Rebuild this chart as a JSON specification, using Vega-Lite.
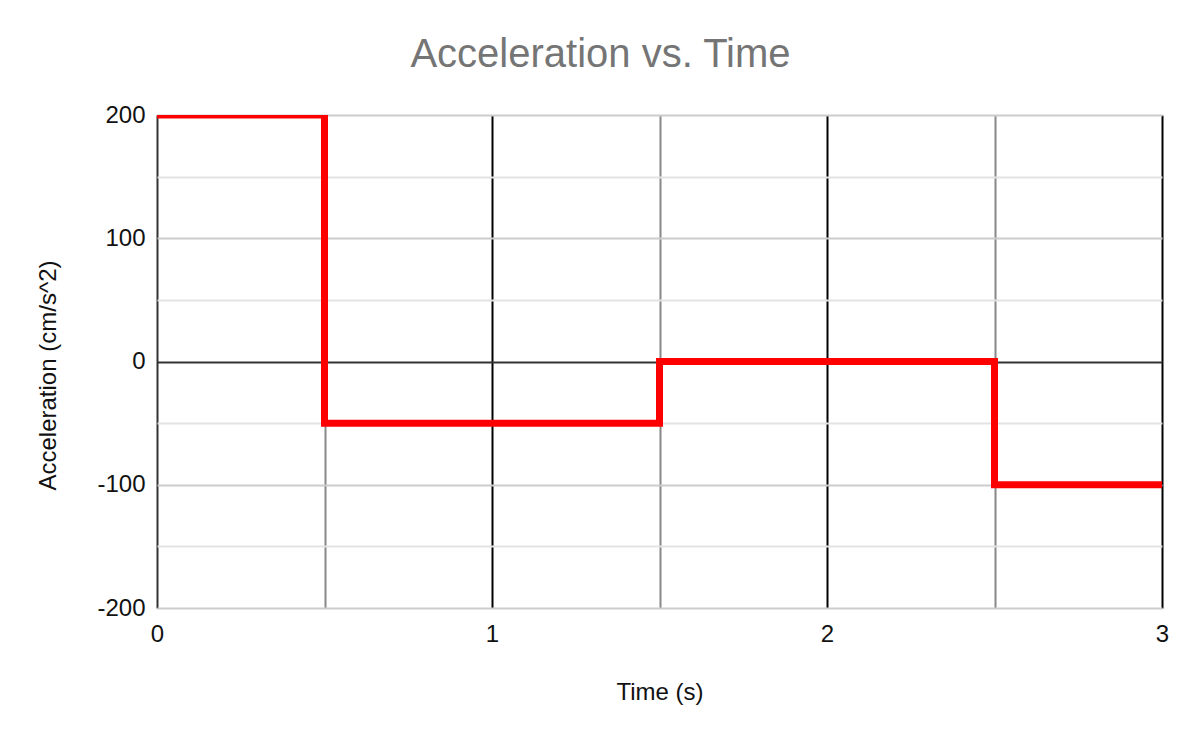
{
  "$schema": "https://vega.github.io/schema/vega-lite/v6.json",
  "autosize": "none",
  "width": 1005,
  "height": 493,
  "padding": {"left": 157, "top": 115, "right": 38, "bottom": 134},
  "background": "white",
  "title": {
    "text": "Acceleration vs. Time",
    "fontSize": 40,
    "font": "Liberation Sans",
    "fontWeight": "normal",
    "color": "#757575",
    "anchor": "middle",
    "dx": -59,
    "offset": 28
  },
  "data": {
    "values": [
      {"time": 0, "accel": 200},
      {"time": 0.5, "accel": -50},
      {"time": 1.5, "accel": 0},
      {"time": 2.5, "accel": -100},
      {"time": 3, "accel": -100}
    ]
  },
  "mark": {
    "type": "line",
    "interpolate": "step-after",
    "color": "#ff0000",
    "strokeWidth": 7,
    "clip": true
  },
  "encoding": {
    "x": {
      "field": "time",
      "type": "quantitative",
      "scale": {"domain": [0, 3], "nice": false, "zero": false},
      "axis": {
        "title": "Time (s)",
        "values": [0, 0.5, 1, 1.5, 2, 2.5, 3],
        "labelExpr": "datum.value % 1 === 0 ? '' + datum.value : ''",
        "ticks": false,
        "domain": false,
        "labelPadding": 14,
        "labelFlush": false,
        "titleY": 84,
        "titleBaseline": "middle",
        "gridColor": {
          "condition": [
            {"test": "datum.value === 0", "value": "#333333"},
            {"test": "datum.value % 1 === 0", "value": "#000000"}
          ],
          "value": "#888888"
        },
        "gridWidth": 2
      }
    },
    "y": {
      "field": "accel",
      "type": "quantitative",
      "scale": {"domain": [-200, 200], "nice": false},
      "axis": {
        "title": "Acceleration (cm/s^2)",
        "values": [-200, -150, -100, -50, 0, 50, 100, 150, 200],
        "labelExpr": "datum.value % 100 === 0 ? '' + datum.value : ''",
        "ticks": false,
        "domain": false,
        "labelPadding": 12,
        "labelFlush": false,
        "titleAngle": -90,
        "titleX": -109,
        "titleY": 260,
        "titleAlign": "center",
        "titleBaseline": "middle",
        "gridColor": {
          "condition": [
            {"test": "datum.value === 0", "value": "#333333"},
            {"test": "datum.value % 100 === 0", "value": "#cccccc"}
          ],
          "value": "#e3e3e3"
        },
        "gridWidth": 2
      }
    }
  },
  "config": {
    "font": "Liberation Sans",
    "view": {"stroke": null},
    "axis": {
      "grid": true,
      "labelFont": "Liberation Sans",
      "labelFontSize": 24,
      "labelColor": "#111111",
      "titleFont": "Liberation Sans",
      "titleFontSize": 24,
      "titleFontWeight": "normal",
      "titleColor": "#111111"
    }
  }
}
